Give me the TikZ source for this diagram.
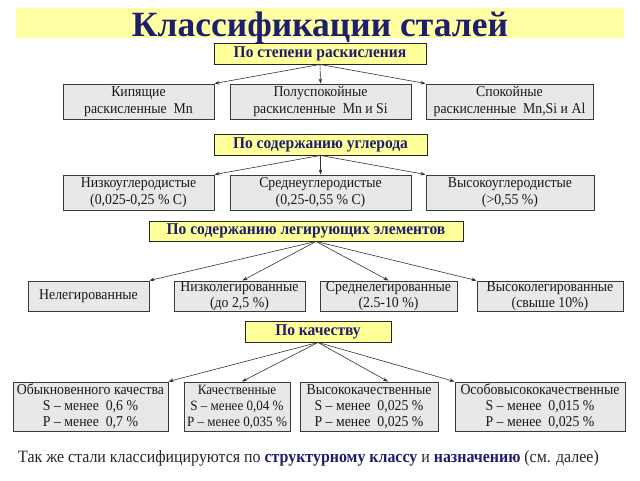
\documentclass[tikz,border=0pt]{standalone}
\usepackage{fontspec}
\setmainfont{Liberation Serif}
\newfontfamily\bodyf[FakeStretch=0.92]{Liberation Serif}
\newfontfamily\headf[FakeStretch=0.94]{Liberation Serif}
\usetikzlibrary{arrows.meta}
\definecolor{navy}{HTML}{1E1E6E}
\definecolor{hyellow}{HTML}{FFFF99}
\definecolor{banner}{HTML}{FFFFA3}
\definecolor{boxgrey}{HTML}{E8E8E8}
\definecolor{boxline}{HTML}{3A3A3A}
\definecolor{arrowgrey}{HTML}{333333}
\tikzset{
  gbox/.style={draw=boxline, fill=boxgrey, line width=1pt, align=center, inner sep=0pt,
    font=\bodyf\fontsize{15}{16.5}\selectfont, text=black!90},
  ybox/.style={draw=black!85, fill=hyellow, line width=0.9pt, inner sep=0pt, align=center,
    font=\headf\bfseries\fontsize{16.5}{18}\selectfont, text=navy},
  arr/.style={-{Stealth[length=5pt,width=3.6pt]}, draw=arrowgrey, line width=0.6pt}
}
\begin{document}
\begin{tikzpicture}[x=1pt,y=-1pt]
\useasboundingbox (0,0) rectangle (640,480);
\fill[white] (0,0) rectangle (640,480);
% title
\fill[banner] (16,8) rectangle (624,38);
\node[anchor=base, font=\bfseries\fontsize{35.5}{38}\selectfont, text=navy, inner sep=0pt] (title) at (320,36.5) {Классификации сталей};
% level 1
\node[ybox, minimum width=212, minimum height=21] (h1) at (320,53.5) {По степени раскисления};
\node[gbox, minimum width=151, minimum height=35] (r1a) at (138.5,101.5) {Кипящие\\раскисленные\ \ Mn};
\node[gbox, minimum width=181, minimum height=35] (r1b) at (320.5,101.5) {Полуспокойные\\раскисленные\ \ Mn и Si};
\node[gbox, minimum width=167, minimum height=35] (r1c) at (509.5,101.5) {Спокойные\\раскисленные\ \ Mn,Si и Al};
\draw[arr] (h1.south) -- (r1a.north east);
\draw[arr] (h1.south) -- (r1b.north);
\draw[arr] (h1.south) -- (r1c.north west);
% level 2
\node[ybox, minimum width=213, minimum height=21] (h2) at (320.5,144.5) {По содержанию углерода};
\node[gbox, minimum width=151, minimum height=35] (r2a) at (138.5,192.5) {Низкоуглеродистые\\(0,025-0,25 \% C)};
\node[gbox, minimum width=181, minimum height=35] (r2b) at (320.5,192.5) {Среднеуглеродистые\\(0,25-0,55 \% C)};
\node[gbox, minimum width=168, minimum height=35] (r2c) at (510,192.5) {Высокоуглеродистые\\(>0,55 \%)};
\draw[arr] (h2.south) -- (r2a.north east);
\draw[arr] (h2.south) -- (r2b.north);
\draw[arr] (h2.south) -- (r2c.north west);
% level 3
\node[ybox, minimum width=314, minimum height=20] (h3) at (306,231) {По содержанию легирующих элементов};
\coordinate (s3) at ([xshift=10pt]h3.south);
\node[gbox, minimum width=121, minimum height=30] (r3a) at (88.5,296) {Нелегированные};
\node[gbox, minimum width=131, minimum height=30] (r3b) at (239.5,296) {Низколегированные\\(до 2,5 \%)};
\node[gbox, minimum width=137, minimum height=30] (r3c) at (388.5,296) {Среднелегированные\\(2.5-10 \%)};
\node[gbox, minimum width=146, minimum height=30] (r3d) at (550,296) {Высоколегированные\\(свыше 10\%)};
\draw[arr] (s3) -- (r3a.north east);
\draw[arr] (s3) -- ([xshift=3pt]r3b.north);
\draw[arr] (s3) -- (r3c.north);
\draw[arr] (s3) -- (r3d.north west);
% level 4
\node[ybox, minimum width=146, minimum height=21] (h4) at (318,331.5) {По качеству};
\node[gbox, minimum width=155, minimum height=49, font=\bodyf\fontsize{15}{16}\selectfont] (r4a) at (90.5,406.5) {Обыкновенного\ качества\\S – менее\ \ 0,6 \%\\P – менее\ \ 0,7 \%};
\node[gbox, minimum width=106, minimum height=49, font=\bodyf\fontsize{14.2}{16}\selectfont] (r4b) at (237,406.5) {Качественные\\S – менее 0,04 \%\\P – менее 0,035 \%};
\node[gbox, minimum width=138, minimum height=49, font=\bodyf\fontsize{15}{16}\selectfont] (r4c) at (369,406.5) {Высококачественные\\S – менее\ \ 0,025 \%\\P – менее\ \ 0,025 \%};
\node[gbox, minimum width=170, minimum height=49, font=\bodyf\fontsize{15}{16}\selectfont] (r4d) at (540,406.5) {Особовысококачественные\\S – менее\ \ 0,015 \%\\P – менее\ \ 0,025 \%};
\coordinate (e4c) at ([xshift=19pt]r4c.north);
\draw[arr] (h4.south) -- (r4a.north east);
\draw[arr] (h4.south) -- ([xshift=5pt]r4b.north);
\draw[arr] (h4.south) -- (e4c);
\draw[arr] (h4.south) -- (r4d.north west);
% footer
\node[anchor=base west, inner sep=0pt, font=\bodyf\fontsize{17.3}{19}\selectfont, text=black!85] (foot) at (18,462)
  {Так же стали классифицируются по \textcolor{navy}{\textbf{структурному классу}} и \textcolor{navy}{\textbf{назначению}} (см. далее)};
\end{tikzpicture}
\end{document}
